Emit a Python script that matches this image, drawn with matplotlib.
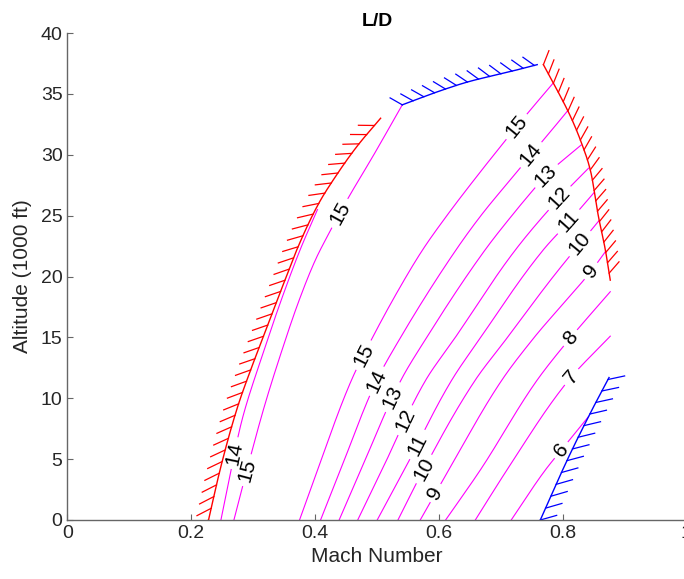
import numpy as np
import matplotlib
matplotlib.use('Agg')
import matplotlib.pyplot as plt

plt.rcParams['font.family'] = ['Liberation Sans', 'DejaVu Sans']

# L/D contours, right-hand family (Mach, altitude in 1000 ft)
right_levels = [15, 14, 13, 12, 11, 10, 9, 8, 7, 6]
right_alt = [
    [0, 4.1, 11.5, 14.8, 19.0, 22.2, 25.0, 28.0, 31.2, 33.5, 35.9],
    [0, 4.1, 11.5, 14.8, 22.2, 25.0, 28.7, 30.0, 32.0, 33.6],
    [0, 4.1, 11.5, 14.8, 22.2, 25.0, 27.2, 28.3, 30.8],
    [0, 4.1, 11.5, 14.8, 22.2, 26.45, 28.9],
    [0, 4.1, 11.5, 14.8, 22.2, 24.5, 26.9],
    [0, 4.1, 11.5, 14.8, 20.0, 24.6],
    [0, 4.1, 11.5, 14.8, 20.45, 22.1],
    [0, 4.1, 11.5, 14.8, 18.75],
    [0, 4.1, 11.5, 15.1],
    [0, 4.1, 5.75, 8.5],
]
right_mach = [
    [0.375, 0.404, 0.459, 0.491, 0.536, 0.574, 0.613, 0.658, 0.708, 0.745, 0.785],
    [0.409, 0.441, 0.500, 0.536, 0.628, 0.668, 0.728, 0.749, 0.782, 0.808],
    [0.439, 0.474, 0.539, 0.578, 0.675, 0.718, 0.754, 0.773, 0.830],
    [0.469, 0.508, 0.579, 0.624, 0.724, 0.795, 0.842],
    [0.5005, 0.544, 0.621, 0.665, 0.769, 0.810, 0.851],
    [0.534, 0.575, 0.659, 0.708, 0.785, 0.859],
    [0.570, 0.616, 0.702, 0.751, 0.846, 0.870],
    [0.611, 0.667, 0.759, 0.810, 0.877],
    [0.659, 0.710, 0.810, 0.877],
    [0.717, 0.772, 0.798, 0.842],
]
right_label_alt = [[13.55, 32.3], [11.4, 30.0], [10.1, 28.3], [8.2, 26.45],
                   [6.2, 24.5], [4.2, 22.7], [2.2, 20.45], [14.95], [11.75], [5.75]]

# L/D contours near the stall boundary
left_levels = [14, 15]
left_alt = [
    [0, 4.0, 8.0, 14.0, 18.0, 22.2, 25.5],
    [0, 4.1, 9.3, 14.0, 18.0, 21.4, 23.5, 26.3, 30.0, 34.1],
]
left_mach = [
    [0.248, 0.264, 0.281, 0.318, 0.345, 0.376, 0.404],
    [0.269, 0.290, 0.318, 0.347, 0.374, 0.401, 0.422, 0.452, 0.495, 0.541],
]
left_label_alt = [[5.5], [4.1, 25.2]]

# flight envelope limits
stall_mach = [0.228, 0.248, 0.275, 0.294, 0.310, 0.337, 0.356, 0.369, 0.406, 0.433, 0.468, 0.506]
stall_alt = [0, 4.4, 9.3, 12.05, 14.2, 17.8, 20.3, 22.0, 26.0, 28.2, 30.7, 33.0]
ceiling_mach = [0.541, 0.605, 0.648, 0.713, 0.759]
ceiling_alt = [34.1, 35.3, 36.0, 36.8, 37.4]
thrust_mach = [0.769, 0.785, 0.815, 0.831, 0.845, 0.858, 0.869, 0.877]
thrust_alt = [37.4, 35.9, 32.9, 30.9, 28.7, 24.9, 22.2, 19.7]
qmax_mach = [0.764, 0.810, 0.847, 0.875]
qmax_alt = [0, 5.2, 9.0, 11.7]

DPI = 100
LABEL_SIZE = 15
AXIS_GRAY = '#666666'


def pchip(x, y, n=300):
    # monotone cubic through the given points, y as a function of x
    x = np.asarray(x, float)
    y = np.asarray(y, float)
    h = np.diff(x)
    d = np.diff(y) / h
    m = np.zeros_like(x)
    m[0], m[-1] = d[0], d[-1]
    for k in range(1, len(x) - 1):
        if d[k - 1] * d[k] > 0:
            w1 = 2 * h[k] + h[k - 1]
            w2 = h[k] + 2 * h[k - 1]
            m[k] = (w1 + w2) / (w1 / d[k - 1] + w2 / d[k])
    xf = np.linspace(x[0], x[-1], n)
    i = np.clip(np.searchsorted(x, xf, side='right') - 1, 0, len(x) - 2)
    t = (xf - x[i]) / h[i]
    h00 = 2 * t**3 - 3 * t**2 + 1
    h10 = t**3 - 2 * t**2 + t
    h01 = -2 * t**3 + 3 * t**2
    h11 = t**3 - t**2
    yf = h00 * y[i] + h10 * h[i] * m[i] + h01 * y[i + 1] + h11 * h[i] * m[i + 1]
    return xf, yf


def arc_length(ax, mach, alt):
    pts = ax.transData.transform(np.column_stack([mach, alt]))
    seg = np.hypot(*np.diff(pts, axis=0).T)
    return np.concatenate([[0.0], np.cumsum(seg)])


def draw_contour(ax, mach, alt, level, label_alts):
    alt, mach = pchip(alt, mach)
    s = arc_length(ax, mach, alt)
    sf = np.append(np.arange(0, s[-1], 0.5), s[-1])
    mf = np.interp(sf, s, mach)
    hf = np.interp(sf, s, alt)
    keep = np.ones(sf.shape, bool)
    em = LABEL_SIZE * DPI / 72.0
    txt = str(level)
    for la in label_alts:
        s0 = np.interp(la, alt, s)
        half = 0.5 * len(txt) * 0.556 * em + 5
        keep &= np.abs(sf - s0) > half
        # orient the label along the line
        sa = np.clip([s0 - 4, s0 + 4], 0, s[-1])
        p = ax.transData.transform(np.column_stack([np.interp(sa, s, mach), np.interp(sa, s, alt)]))
        ang = np.degrees(np.arctan2(p[1, 1] - p[0, 1], p[1, 0] - p[0, 0]))
        if ang > 90:
            ang -= 180
        elif ang < -90:
            ang += 180
        ax.text(np.interp(s0, s, mach), np.interp(s0, s, alt), txt, rotation=ang,
                rotation_mode='anchor', ha='center', va='center',
                fontsize=LABEL_SIZE, color='black')
    mf = np.where(keep, mf, np.nan)
    ax.plot(mf, hf, color='#FF00FF', lw=0.8)


def draw_limit(ax, mach, alt, color, turn, length=15, spacing=12):
    ax.plot(mach, alt, color=color, lw=1.0)
    s = arc_length(ax, mach, alt)
    inv = ax.transData.inverted()
    for sh in np.arange(0, s[-1], spacing):
        sa = np.clip([sh - 2, sh + 2], 0, s[-1])
        p = ax.transData.transform(np.column_stack([np.interp(sa, s, mach), np.interp(sa, s, alt)]))
        t = np.arctan2(p[1, 1] - p[0, 1], p[1, 0] - p[0, 0]) + np.radians(turn)
        p0 = ax.transData.transform([[np.interp(sh, s, mach), np.interp(sh, s, alt)]])[0]
        p1 = p0 + length * np.array([np.cos(t), np.sin(t)])
        d = inv.transform([p0, p1])
        ax.plot(d[:, 0], d[:, 1], color=color, lw=0.9)


fig = plt.figure(figsize=(6.84, 5.79), dpi=DPI)
ax = fig.add_axes([67.4 / 684, 59 / 579, 619 / 684, 487 / 579])
ax.set_xlim(0, 1)
ax.set_ylim(0, 40)

for lev, m, h, la in zip(right_levels, right_mach, right_alt, right_label_alt):
    draw_contour(ax, m, h, lev, la)
for lev, m, h, la in zip(left_levels, left_mach, left_alt, left_label_alt):
    draw_contour(ax, m, h, lev, la)

# limits, smoothed along whichever axis is monotonic
h, m = pchip(stall_alt, stall_mach)
draw_limit(ax, m, h, '#FF0000', 130, length=16, spacing=12)
m, h = pchip(thrust_mach, thrust_alt)
draw_limit(ax, m, h, '#FF0000', 130, length=15, spacing=10.5)
m, h = pchip(ceiling_mach, ceiling_alt)
draw_limit(ax, m, h, '#0000FF', 130, length=14, spacing=11.5)
h, m = pchip(qmax_alt, qmax_mach)
draw_limit(ax, m, h, '#0000FF', -50, length=17, spacing=13)

for side in ['top', 'right']:
    ax.spines[side].set_visible(False)
for side in ['left', 'bottom']:
    ax.spines[side].set_color(AXIS_GRAY)
    ax.spines[side].set_linewidth(1.0)

ax.set_xticks([0, 0.2, 0.4, 0.6, 0.8, 1])
ax.set_xticklabels(['0', '0.2', '0.4', '0.6', '0.8', '1'])
ax.set_yticks(range(0, 45, 5))
ax.tick_params(direction='in', length=4, width=0.8, color=AXIS_GRAY,
               labelcolor='#262626', labelsize=14)
ax.set_xlabel('Mach Number', fontsize=15, color='#262626', labelpad=4)
ax.set_ylabel('Altitude (1000 ft)', fontsize=15, color='#262626', labelpad=6)
ax.set_title('L/D', fontsize=14, fontweight='bold', color='black', pad=5)

fig.savefig('out.png', dpi=DPI)
